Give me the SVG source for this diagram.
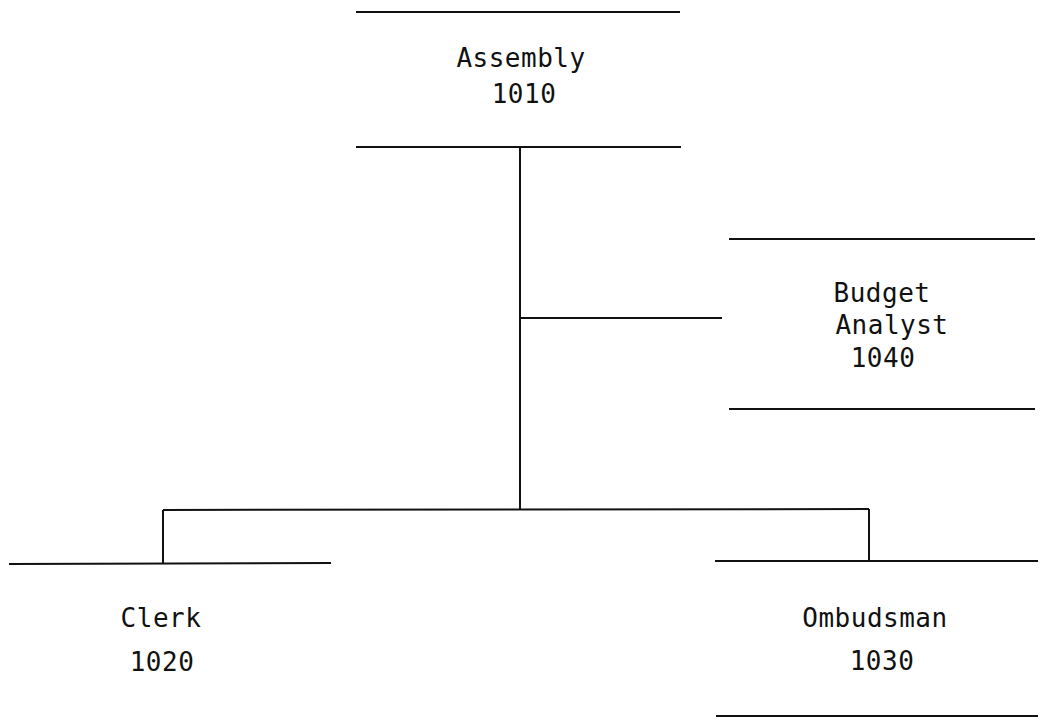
<svg xmlns="http://www.w3.org/2000/svg" width="1049" height="727" viewBox="0 0 1049 727">
<style>
.ln{stroke:#111;stroke-width:2;fill:none}
.t{font-family:"DejaVu Sans Mono","Liberation Mono",monospace;font-size:26px;letter-spacing:0.5px;fill:#111;text-anchor:middle}
</style>
<rect width="1049" height="727" fill="#fff"/>
<g id="connectors">
<line class="ln" x1="520" y1="147" x2="520" y2="510"/>
<line class="ln" x1="520" y1="318" x2="722" y2="318"/>
<line class="ln" x1="163" y1="510" x2="869" y2="509"/>
<line class="ln" x1="163" y1="510" x2="163" y2="563"/>
<line class="ln" x1="869" y1="509" x2="869" y2="561"/>
</g>
<g id="assembly">
<line class="ln" x1="356" y1="12" x2="680" y2="12"/>
<line class="ln" x1="356" y1="147" x2="681" y2="147"/>
<text class="t" x="521" y="67">Assembly</text>
<text class="t" x="524" y="103">1010</text>
</g>
<g id="budget">
<line class="ln" x1="729" y1="239" x2="1035" y2="239"/>
<line class="ln" x1="729" y1="409" x2="1035" y2="409"/>
<text class="t" x="882" y="302">Budget</text>
<text class="t" x="892" y="334">Analyst</text>
<text class="t" x="883" y="367">1040</text>
</g>
<g id="clerk">
<line class="ln" x1="9" y1="564" x2="331" y2="563"/>
<text class="t" x="161" y="627">Clerk</text>
<text class="t" x="162" y="671">1020</text>
</g>
<g id="ombudsman">
<line class="ln" x1="715" y1="561" x2="1038" y2="561"/>
<line class="ln" x1="716" y1="716" x2="1038" y2="716"/>
<text class="t" x="875" y="627">Ombudsman</text>
<text class="t" x="882" y="670">1030</text>
</g>
</svg>
